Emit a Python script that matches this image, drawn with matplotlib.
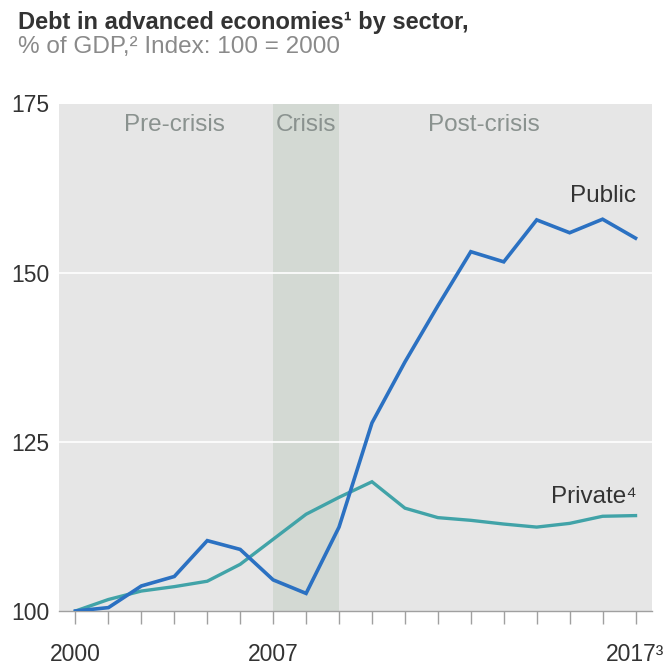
import matplotlib
matplotlib.use("Agg")
import matplotlib.pyplot as plt

plt.rcParams['font.family'] = ['Liberation Sans', 'DejaVu Sans']

# ---- data ----
positions = list(range(18))
public = [100, 100.5, 103.7, 105.1, 110.4, 109.1, 104.6, 102.6, 112.4, 127.8,
          136.8, 145.1, 153.1, 151.6, 157.8, 155.9, 157.9, 155.1]
private = [100, 101.7, 102.95, 103.6, 104.4, 106.9, 110.6, 114.3, 116.8, 119.1,
           115.2, 113.8, 113.4, 112.85, 112.4, 112.95, 114.0, 114.1]
xtick_pos = [0, 6, 17]
xtick_labels = ["2000", "2007", "2017³"]
ytick_vals = [100, 125, 150, 175]
phases = ["Pre-crisis", "Crisis", "Post-crisis"]
phase_centers = [3, 7, 12.4]
crisis_span = (6, 8)

fig = plt.figure(figsize=(6.66, 6.66), dpi=100)
ax = fig.add_axes([59/666, 55/666, (652-59)/666, (611-103.5)/666])
ax.set_facecolor('#e6e6e6')
ax.axvspan(*crisis_span, color='#d3d9d3', zorder=0.5, lw=0)
for v in ytick_vals[1:-1]:
    ax.axhline(v, color='white', lw=1.2, zorder=0.6)

ax.plot(positions, private, color='#41a3a8', lw=2.4, zorder=3, solid_joinstyle='miter')
ax.plot(positions, public, color='#2b71c2', lw=2.6, zorder=4, solid_joinstyle='miter')

ax.set_xlim(-0.5, 17.5)
ax.set_ylim(100, 175)

for s in ['top', 'right', 'left']:
    ax.spines[s].set_visible(False)
ax.spines['bottom'].set_color('#a0a0a0')
ax.spines['bottom'].set_linewidth(1.0)

ax.set_xticks(positions, minor=True)
ax.set_xticks(xtick_pos)
ax.set_xticklabels(xtick_labels)
ax.tick_params(axis='x', which='both', length=9, width=1, color='#a0a0a0',
               direction='out')
ax.tick_params(axis='x', which='major', pad=14, labelsize=16.5, labelcolor='#333333')
ax.set_yticks(ytick_vals)
ax.set_yticklabels([str(v) for v in ytick_vals])
ax.tick_params(axis='y', length=0, pad=7, labelsize=16.5, labelcolor='#333333')

for name, cx in zip(phases, phase_centers):
    ax.text(cx, 171.8, name, ha='center', va='center', fontsize=17.5, color='#8a928f')

ax.text(17, 161.4, "Public", ha='right', va='center', fontsize=17.5, color='#333333')
ax.text(17.05, 116.8, "Private⁴", ha='right', va='center', fontsize=17.5, color='#333333')

fig.text(18/666, 1 - 22/666, "Debt in advanced economies¹ by sector,", ha='left', va='center',
         fontsize=17, fontweight='bold', color='#333333')
fig.text(18/666, 1 - 47/666, "% of GDP,² Index: 100 = 2000", ha='left', va='center',
         fontsize=17.5, color='#8a8a8a')

fig.savefig("out.png", dpi=100)
